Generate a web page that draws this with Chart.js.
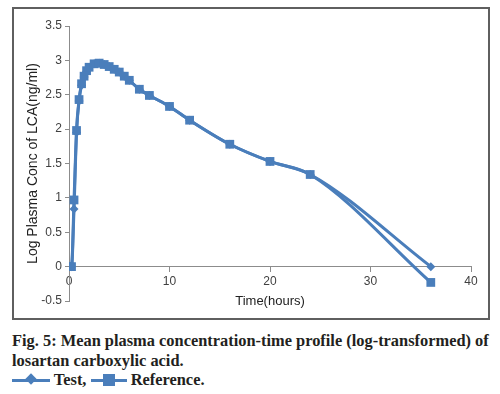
<!DOCTYPE html>
<html>
<head>
<meta charset="utf-8">
<script src="https://cdn.jsdelivr.net/npm/chart.js@4/dist/chart.umd.min.js"></script>
<style>
  html, body { margin: 0; padding: 0; background: #fff; }
  body { width: 500px; height: 394px; position: relative; overflow: hidden; }
  #frame { position: absolute; left: 12px; top: 7px; width: 478px; height: 313px; box-sizing: border-box; border: 2px solid #5f5f5f; }
  #c { position: absolute; left: 0; top: 0; }
  #cap { position: absolute; left: 12px; top: 331px; width: 490px; font-family: "Liberation Serif", serif; font-weight: bold; font-size: 16.4px; line-height: 19.5px; color: #231f20; white-space: nowrap; }
  .ln { display: inline-block; position: relative; width: 38px; height: 3px; background: #4A7EBB; vertical-align: middle; margin-top: -2px; }
  .dia { position: absolute; left: 15px; top: -4px; width: 8px; height: 8px; background: #4A7EBB; transform: rotate(45deg); }
  .sq { position: absolute; left: 12px; top: -5px; width: 12px; height: 12px; background: #4A7EBB; }
</style>
</head>
<body>
<div id="frame"></div>
<canvas id="c" width="500" height="322"></canvas>
<div id="cap">Fig. 5: Mean plasma concentration-time profile (log-transformed) of<br>losartan carboxylic acid.<br><span class="ln"><span class="dia"></span></span> Test, <span class="ln" style="width:36px"><span class="sq"></span></span> Reference.</div>
<script>
const timeHours = [0, 0.25, 0.5, 0.75, 1, 1.25, 1.5, 1.75, 2, 2.5, 3, 3.5, 4, 4.5, 5, 5.5, 6, 7, 8, 10, 12, 16, 20, 24, 36];
const testLog = [0, 0, 0.84, 1.95, 2.41, 2.64, 2.76, 2.84, 2.9, 2.95, 2.96, 2.94, 2.91, 2.87, 2.83, 2.77, 2.71, 2.58, 2.49, 2.33, 2.13, 1.78, 1.53, 1.34, 0];
const refLog = [0, 0, 0.97, 1.98, 2.43, 2.66, 2.77, 2.85, 2.9, 2.95, 2.96, 2.94, 2.91, 2.87, 2.83, 2.77, 2.71, 2.58, 2.49, 2.33, 2.13, 1.78, 1.53, 1.34, -0.23];
const seriesNames = ["Test", "Reference"];
const xTitle = "Time(hours)";
const yTitle = "Log Plasma Conc of LCA(ng/ml)";

const blue = "#4A7EBB";
const toPts = vals => timeHours.map((t, i) => ({ x: t, y: vals[i] }));
const fmt = v => String(Math.round(v * 10) / 10);

new Chart(document.getElementById("c"), {
  type: "line",
  data: {
    datasets: [
      { label: seriesNames[1], data: toPts(refLog), borderColor: blue, backgroundColor: blue, borderWidth: 3,
        pointStyle: "rect", pointRadius: 6.2, pointBorderWidth: 0, cubicInterpolationMode: "monotone", order: 0 },
      { label: seriesNames[0], data: toPts(testLog), borderColor: blue, backgroundColor: blue, borderWidth: 3,
        pointStyle: "rectRot", pointRadius: 4.5, pointBorderWidth: 0, cubicInterpolationMode: "monotone", order: 1 }
    ]
  },
  options: {
    responsive: false,
    animation: false,
    devicePixelRatio: 1,
    layout: { padding: { left: 14, right: 29, top: 26, bottom: 21 } },
    plugins: { legend: { display: false }, tooltip: { enabled: false } },
    scales: {
      x: {
        type: "linear",
        position: { y: 0 },
        min: 0, max: 40,
        ticks: { stepSize: 10, color: "#404040", font: { family: "Liberation Sans, Arial", size: 12 }, padding: 3, maxRotation: 0, callback: fmt },
        grid: { drawOnChartArea: false, drawTicks: true, tickLength: 5, color: "#8c8c8c" },
        border: { color: "#8c8c8c", width: 1 },
        title: { display: true, text: xTitle, color: "#222", font: { family: "Liberation Sans, Arial", size: 13 }, padding: { top: 2, bottom: 0 } }
      },
      y: {
        min: -0.5, max: 3.5,
        ticks: { stepSize: 0.5, color: "#404040", font: { family: "Liberation Sans, Arial", size: 12 }, padding: 3, callback: fmt },
        grid: { drawOnChartArea: false, drawTicks: true, tickLength: 4, color: "#8c8c8c" },
        border: { color: "#8c8c8c", width: 1 },
        title: { display: true, text: yTitle, color: "#222", font: { family: "Liberation Sans, Arial", size: 14 }, padding: { top: 11, bottom: 0 } },
        afterFit: s => { s.width = 55; }
      }
    }
  }
});
</script>
</body>
</html>
